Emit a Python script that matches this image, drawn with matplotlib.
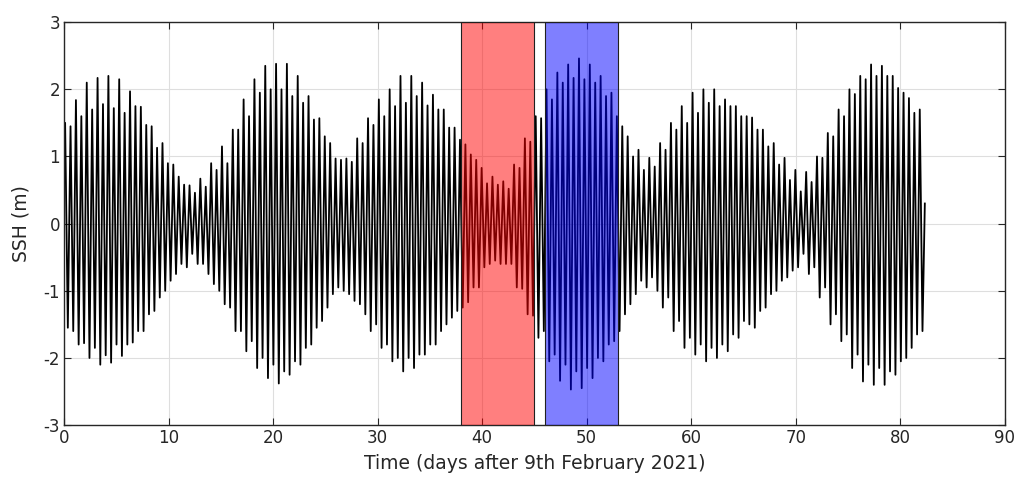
import numpy as np
import matplotlib
matplotlib.use("Agg")
import matplotlib.pyplot as plt

# ============================
# data
# ============================
# successive high waters (m), one per semidiurnal cycle
high_water = [
    1.5, 1.45, 1.84, 1.6, 2.1, 1.7, 2.17, 1.78, 2.2, 1.72,
    2.15, 1.65, 1.97, 1.75, 1.74, 1.47, 1.45, 1.13, 1.2, 0.9,
    0.88, 0.7, 0.58, 0.57, 0.46, 0.67, 0.55, 0.9, 0.8, 1.15,
    0.9, 1.4, 1.4, 1.85, 1.6, 2.15, 1.95, 2.35, 2.0, 2.38,
    2.0, 2.38, 1.9, 2.2, 1.8, 1.9, 1.55, 1.57, 1.3, 1.2,
    0.97, 0.95, 0.97, 0.92, 1.27, 1.2, 1.57, 1.47, 1.85, 1.6,
    2.0, 1.75, 2.2, 1.8, 2.2, 1.9, 2.1, 1.76, 1.92, 1.7,
    1.7, 1.43, 1.43, 1.25, 1.18, 1.03, 0.95, 0.83, 0.6, 0.7,
    0.58, 0.63, 0.52, 0.88, 0.83, 1.27, 1.22, 1.6, 1.57, 2.0,
    1.85, 2.25, 2.1, 2.37, 2.17, 2.46, 2.15, 2.37, 2.1, 2.2,
    1.9, 1.95, 1.6, 1.45, 1.3, 1.0, 1.1, 0.8, 0.98, 0.85,
    1.2, 1.1, 1.5, 1.4, 1.75, 1.5, 1.95, 1.65, 2.0, 1.8,
    2.0, 1.75, 1.85, 1.75, 1.75, 1.6, 1.6, 1.58, 1.4, 1.4,
    1.15, 1.2, 0.88, 0.98, 0.65, 0.8, 0.48, 0.77, 0.62, 1.0,
    0.98, 1.35, 1.3, 1.7, 1.6, 2.0, 1.93, 2.2, 2.15, 2.37,
    2.2, 2.35, 2.2, 2.2, 2.02, 1.95, 1.87, 1.65, 1.7,
]
# successive low waters (m)
low_water = [
    -1.55, -1.6, -1.8, -1.78, -2.0, -1.85, -2.1, -1.96, -2.07, -1.8,
    -1.97, -1.8, -1.77, -1.6, -1.6, -1.35, -1.3, -1.1, -1.0, -0.85,
    -0.75, -0.6, -0.65, -0.45, -0.6, -0.6, -0.75, -0.9, -1.0, -1.2,
    -1.25, -1.6, -1.6, -1.9, -1.75, -2.15, -2.0, -2.3, -2.1, -2.38,
    -2.2, -2.25, -2.05, -2.1, -1.85, -1.8, -1.55, -1.45, -1.25, -1.05,
    -0.95, -1.0, -1.05, -1.15, -1.2, -1.35, -1.6, -1.5, -1.85, -1.8,
    -2.05, -2.0, -2.2, -2.0, -2.15, -1.95, -1.95, -1.8, -1.8, -1.6,
    -1.5, -1.4, -1.3, -1.25, -1.17, -0.95, -0.95, -0.65, -0.6, -0.55,
    -0.6, -0.6, -0.6, -0.95, -0.97, -1.35, -1.37, -1.7, -1.6, -2.05,
    -1.95, -2.34, -2.1, -2.47, -2.2, -2.45, -2.15, -2.3, -2.0, -2.05,
    -1.8, -1.75, -1.6, -1.35, -1.2, -1.05, -0.85, -0.95, -0.8, -1.0,
    -1.25, -1.1, -1.6, -1.45, -1.85, -1.7, -1.95, -1.8, -2.05, -1.85,
    -2.0, -1.8, -1.9, -1.65, -1.7, -1.45, -1.5, -1.55, -1.3, -1.25,
    -1.05, -1.0, -0.85, -0.8, -0.7, -0.65, -0.45, -0.75, -0.65, -1.1,
    -0.95, -1.5, -1.35, -1.75, -1.65, -2.15, -1.95, -2.35, -2.1, -2.4,
    -2.15, -2.4, -2.2, -2.25, -2.05, -2.0, -1.85, -1.65, -1.6,
]
first_high_day = 0.1        # time of first high water (days)
first_low_day = 0.36        # time of first low water (days)
tide_period = 0.5175        # semidiurnal period (days)
start_level = (0.0, 1.0)    # (day, m) at start of record
end_level = (82.35, 0.3)    # (day, m) at end of record

# analysis windows (days)
windows = [(38, 45, "red"), (46, 53, "blue")]

# ============================
# build the time series
# ============================
t_high = first_high_day + tide_period * np.arange(len(high_water))
t_low = first_low_day + tide_period * np.arange(len(low_water))
t = np.concatenate([[start_level[0]], t_high, t_low, [end_level[0]]])
h = np.concatenate([[start_level[1]], high_water, low_water, [end_level[1]]])
order = np.argsort(t)
t, h = t[order], h[order]

# ============================
# plot
# ============================
plt.rcParams["font.family"] = ["DejaVu Sans"]
plt.rcParams["axes.unicode_minus"] = False
fig = plt.figure(figsize=(10.17, 4.82), dpi=100)
ax = fig.add_axes([0.063, 0.118, 0.925, 0.836])

ax.plot(t, h, color="black", lw=1.3, zorder=2)
for x0, x1, c in windows:
    ax.axvspan(x0, x1, facecolor=c, alpha=0.5, edgecolor="none", zorder=3)
    ax.axvspan(x0, x1, facecolor="none", edgecolor="#202020", lw=0.8, zorder=3)

ax.set_xlim(0, 90)
ax.set_ylim(-3, 3)
ax.set_xticks(np.arange(0, 91, 10))
ax.set_yticks(np.arange(-3, 4, 1))
ax.grid(True, color="#dedede", lw=0.8, zorder=0)
ax.set_axisbelow(True)
ax.tick_params(direction="in", top=True, right=True, length=5, pad=3,
               labelsize=12, color="#262626", labelcolor="#262626")
for s in ax.spines.values():
    s.set_color("#262626")
    s.set_linewidth(1.0)
ax.set_xlabel("Time (days after 9th February 2021)", fontsize=13.5,
              color="#262626", labelpad=5)
ax.set_ylabel("SSH (m)", fontsize=13.5, color="#262626", labelpad=9)

fig.savefig("out.png", dpi=100)
